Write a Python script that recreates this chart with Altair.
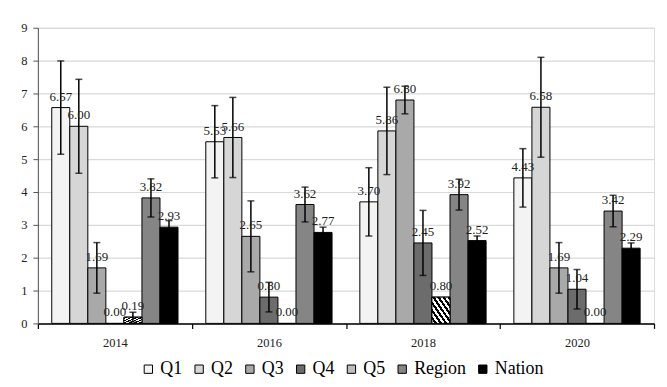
import altair as alt
import pandas as pd

years = ["2014", "2016", "2018", "2020"]
groups = ["Q1", "Q2", "Q3", "Q4", "Q5", "Region", "Nation"]

q1 = [6.57, 5.53, 3.70, 4.43]
q2 = [6.00, 5.66, 5.86, 6.58]
q3 = [1.69, 2.65, 6.80, 1.69]
q4 = [0.00, 0.80, 2.45, 1.04]
q5 = [0.19, 0.00, 0.80, 0.00]
region = [3.82, 3.62, 3.92, 3.42]
nation = [2.93, 2.77, 2.52, 2.29]

q1_err = [1.42, 1.10, 1.04, 0.89]
q2_err = [1.43, 1.22, 1.33, 1.52]
q3_err = [0.77, 1.08, 0.42, 0.77]
q4_err = [0.00, 0.45, 0.99, 0.60]
q5_err = [0.15, 0.00, 0.00, 0.00]
region_err = [0.58, 0.53, 0.47, 0.48]
nation_err = [0.20, 0.16, 0.14, 0.16]

series = [q1, q2, q3, q4, q5, region, nation]
errors = [q1_err, q2_err, q3_err, q4_err, q5_err, region_err, nation_err]

rows = []
for g, vals, errs in zip(groups, series, errors):
    for y, v, e in zip(years, vals, errs):
        rows.append({"year": y, "group": g, "value": v, "err": e,
                     "lo": v - e, "hi": v + e})
df = pd.DataFrame(rows)

fills = ["#f3f3f3", "#d6d6d6", "#a9a9a9", "#6c6c6c", "#bdbdbd", "#858585", "#000000"]
FONT = "Liberation Serif"

x_axis = alt.Axis(labelAngle=0, tickBand="extent", labelFontSize=12.5,
                  labelFont=FONT, labelColor="#222222", labelPadding=8,
                  domainColor="#000000", domainWidth=1.5, tickColor="#000000",
                  tickWidth=1.2, tickSize=5)
y_axis = alt.Axis(values=list(range(10)), labelFontSize=12.5, labelFont=FONT,
                  labelColor="#222222", gridColor="#d9d9d9", gridWidth=1.2,
                  domainColor="#555555", tickColor="#555555", tickSize=5,
                  labelPadding=6, minExtent=25, maxExtent=25, title=None)
y_scale = alt.Scale(domain=[0, 9], nice=False)

x_enc = alt.X("year:N", sort=years, title=None,
              scale=alt.Scale(paddingInner=0, paddingOuter=0), axis=x_axis)
xo_enc = alt.XOffset("group:N", sort=groups,
                     scale=alt.Scale(domain=groups, paddingInner=0, paddingOuter=0.77))

base = alt.Chart(df)

bars = base.mark_bar(stroke="#000000", strokeWidth=1).encode(
    x=x_enc,
    xOffset=xo_enc,
    y=alt.Y("value:Q", title=None, scale=y_scale, axis=y_axis),
    fill=alt.Fill("group:N", sort=groups,
                  scale=alt.Scale(domain=groups, range=fills),
                  legend=alt.Legend(title=None, orient="none", direction="horizontal",
                                    legendX=102, legendY=334,
                                    symbolType="square", symbolSize=70,
                                    symbolStrokeColor="#000000", symbolStrokeWidth=1,
                                    labelFont=FONT, labelFontSize=18, labelColor="#000000",
                                    columnPadding=8, labelOffset=3)),
)

stops = []
n = 7
for i in range(n):
    a = i / n
    b = (i + 0.5) / n
    c = (i + 1) / n
    stops += [alt.GradientStop(color="#ffffff", offset=a),
              alt.GradientStop(color="#ffffff", offset=b),
              alt.GradientStop(color="#000000", offset=b),
              alt.GradientStop(color="#000000", offset=c)]
stripe = alt.LinearGradient(gradient="linear", stops=stops, x1=0, y1=1, x2=1, y2=0)

q5_bars = base.transform_filter(
    (alt.datum.group == "Q5") & (alt.datum.value > 0)
).mark_bar(fill=stripe, stroke="#000000", strokeWidth=1).encode(
    x=x_enc,
    xOffset=xo_enc,
    y=alt.Y("value:Q", title=None, scale=y_scale, axis=y_axis),
)

err_df = base.transform_filter(alt.datum.err > 0)

rules = err_df.mark_rule(color="#000000", strokeWidth=1.5).encode(
    x=x_enc,
    xOffset=xo_enc,
    y=alt.Y("lo:Q", title=None, scale=y_scale, axis=y_axis),
    y2="hi:Q",
)
caps_hi = err_df.mark_tick(color="#000000", thickness=1.5, size=7).encode(
    x=x_enc,
    xOffset=xo_enc,
    y=alt.Y("hi:Q", title=None, scale=y_scale, axis=y_axis),
)
caps_lo = err_df.mark_tick(color="#000000", thickness=1.5, size=7).encode(
    x=x_enc,
    xOffset=xo_enc,
    y=alt.Y("lo:Q", title=None, scale=y_scale, axis=y_axis),
)

labels = base.mark_text(font=FONT, fontSize=13, dy=-7, baseline="alphabetic",
                        color="#222222").encode(
    x=x_enc,
    xOffset=xo_enc,
    y=alt.Y("value:Q", title=None, scale=y_scale, axis=y_axis),
    text=alt.Text("value:Q", format=".2f"),
)

chart = alt.layer(bars, q5_bars, rules, caps_hi, caps_lo, labels).properties(
    width=619, height=297,
    autosize=alt.AutoSizeParams(type="none"),
    padding={"left": 30, "top": 19, "right": 5, "bottom": 55},
).configure_view(stroke=None).configure(
    background="#ffffff", font=FONT
).configure_legend(labelFont=FONT).configure_axis(labelFont=FONT)

chart.save("out.html", embed_options={"renderer": "svg", "actions": False})
